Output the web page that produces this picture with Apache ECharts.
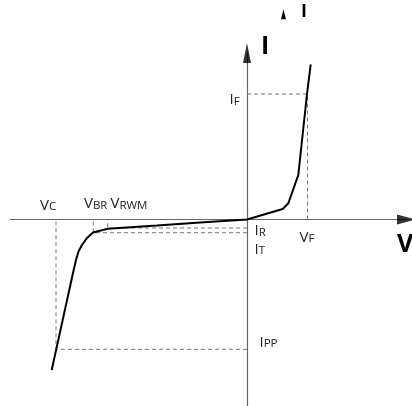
<!DOCTYPE html>
<html><head><meta charset="utf-8">
<script src="https://cdn.jsdelivr.net/npm/echarts@6/dist/echarts.min.js"></script>
<style>html,body{margin:0;padding:0;background:#fff}#c{width:412px;height:406px}</style>
</head><body><div id="c"></div>
<script>
// I-V characteristic (schematic units)
const curveV = [-19.53, -17.3, -17.1, -16.85, -16.5, -16.0, -15.4, -13.93, -9.0, -4.7, 0, 3.57, 4.13, 5.13, 6.0, 6.37];
const curveI = [-15.05, -4.9, -4.05, -3.2, -2.55, -1.85, -1.3, -0.92, -0.6, -0.3, 0, 1.05, 1.62, 4.45, 12.55, 15.52];
// key points: voltage / current pairs for the dashed guides
const guideNamesV = ['VF', 'VC', 'VBR', 'VRWM'];
const guideV = [6.05, -19.1, -15.37, -13.93];
const guideNamesI = ['IF', 'IPP', 'IT', 'IR'];
const guideI = [12.55, -12.98, -1.32, -0.85];
// axis ranges
const vRange = [-23.7, 15.95];
const iRange = [-18.65, 16.65];

const chart = echarts.init(document.getElementById('c'));
const curve = curveV.map((v, i) => [v, curveI[i]]);
const guideSeries = guideV.map((v, i) => ({
  type: 'line', name: guideNamesV[i] + '-' + guideNamesI[i],
  data: [[0, guideI[i]], [v, guideI[i]], [v, 0]],
  showSymbol: false, silent: true, z: 1,
  lineStyle: { color: '#777', width: 1, type: [4, 3] }
}));

const FONT = '"Open Sans", sans-serif';
function lbl(x, y, parts) {
  let txt = '';
  parts.forEach(p => { txt += '{' + (p[1] ? 'b' : 'a') + '|' + p[0] + '}'; });
  return {
    type: 'text', x: x, y: y, silent: true,
    style: {
      text: txt, fill: '#222', fontFamily: FONT, verticalAlign: 'top', align: 'left',
      rich: {
        a: { fontSize: 15, lineHeight: 15, fontFamily: FONT, fill: '#222', verticalAlign: 'bottom' },
        b: { fontSize: 11.5, lineHeight: 11.5, fontFamily: FONT, fill: '#222', verticalAlign: 'bottom' }
      }
    }
  };
}
function big(x, y, t, size) {
  return { type: 'text', x: x, y: y, silent: true,
    style: { text: t, fill: '#000', fontFamily: FONT, fontWeight: 'bold', fontSize: size, verticalAlign: 'top' } };
}

chart.setOption({
  animation: false,
  backgroundColor: '#fff',
  grid: { left: 10, right: 5.5, top: 53, bottom: 0, containLabel: false },
  xAxis: {
    type: 'value', min: vRange[0], max: vRange[1],
    axisLine: { onZero: true, lineStyle: { color: '#666', width: 1.2 } },
    axisTick: { show: false }, axisLabel: { show: false }, splitLine: { show: false }
  },
  yAxis: {
    type: 'value', min: iRange[0], max: iRange[1],
    axisLine: { onZero: true, lineStyle: { color: '#666', width: 1.2 } },
    axisTick: { show: false }, axisLabel: { show: false }, splitLine: { show: false }
  },
  series: guideSeries.concat([{
    type: 'line', name: 'I-V', data: curve, showSymbol: false, z: 3,
    lineStyle: { color: '#000', width: 2 }
  }, {
    type: 'scatter', name: 'V arrow', data: [[vRange[1], 0]], clip: false, silent: true, z: 4,
    symbol: 'triangle', symbolSize: [10, 19], symbolRotate: -90, itemStyle: { color: '#000' }
  }, {
    type: 'scatter', name: 'I arrow', data: [[0, iRange[1]]], clip: false, silent: true, z: 4,
    symbol: 'triangle', symbolSize: [8, 20], itemStyle: { color: '#000' }
  }]),
  graphic: [
    lbl(229.5, 92.5, [['I'], ['F', 1]]),
    lbl(40, 198, [['V'], ['C', 1]]),
    lbl(84, 196.5, [['V'], ['BR ', 1], ['V'], ['RWM', 1]]),
    lbl(254.5, 223.5, [['I'], ['R', 1]]),
    lbl(254.5, 242, [['I'], ['T', 1]]),
    lbl(299.5, 230, [['V'], ['F', 1]]),
    lbl(259.5, 335, [['I'], ['PP', 1]]),
    big(261, 34, 'I', 25),
    big(397, 232, 'V', 25),
    big(301, 2.5, 'I', 18),
    { type: 'polygon', silent: true, shape: { points: [[283.4, 9.3], [281, 19.3], [286, 19.3]] }, style: { fill: '#000' } }
  ]
});
</script></body></html>
